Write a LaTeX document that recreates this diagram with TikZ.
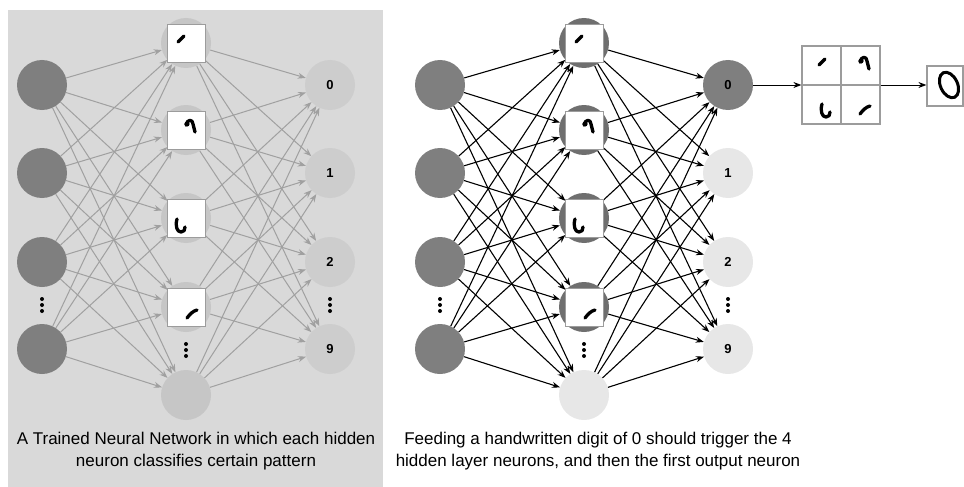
\documentclass[tikz,border=0pt]{standalone}
\usepackage{fontspec}
\setmainfont{Liberation Sans}
\usetikzlibrary{arrows.meta}

\definecolor{panelbg}{HTML}{D9D9D9}
\definecolor{inputgray}{HTML}{7F7F7F}
\definecolor{hiddenpale}{HTML}{C6C6C6}
\definecolor{outpale}{HTML}{CDCDCD}
\definecolor{hiddendark}{HTML}{6F6F6F}
\definecolor{outlight}{HTML}{E7E7E7}
\definecolor{edgegray}{HTML}{A0A0A0}
\definecolor{framegray}{HTML}{9C9C9C}

\tikzset{
  neuron/.style={circle, minimum size=50pt, inner sep=0pt, draw=none},
  patch/.style={rectangle, minimum size=38pt, inner sep=0pt, fill=white, draw=framegray, line width=0.7pt},
  label/.style={font=\bfseries\fontsize{13}{13}\selectfont},
  paleedge/.style={draw=edgegray, line width=1pt, -{Stealth[length=8pt,width=6pt]}},
  darkedge/.style={draw=black, line width=1.1pt, -{Stealth[length=8pt,width=6pt]}},
  ink/.style={draw=black, line width=3.3pt, line cap=round, line join=round},
  caption/.style={align=center, font=\fontsize{17}{21.5}\selectfont},
  glyphone/.pic={\draw[ink] (-8,-1) -- (-2,-7);},
  glyphtwo/.pic={\draw[ink] (0,-5) .. controls (1,-11) and (7,-11) .. (7,-6) .. controls (8,-2) .. (9,2);
                 \fill (1,-6) circle (2.6);},
  glyphthree/.pic={\draw[ink] (-9,1) .. controls (-11,8) and (-9,14) .. (-5,14) .. controls (-2,14) and (-1,12) .. (-1,9);},
  glyphfour/.pic={\draw[ink] (1,11) .. controls (4,7) and (7,4) .. (11,3);},
  vdots/.pic={\fill (0,-6) circle (2) (0,0) circle (2) (0,6) circle (2);}
}

\begin{document}
\begin{tikzpicture}[x=1pt, y=-1pt]
\useasboundingbox (0,0) rectangle (964,487);

% ---------- left panel: trained network ----------
\fill[panelbg] (8,10) rectangle (383,487);

\foreach \i/\y in {1/85,2/173,3/262,4/349}
  \node[neuron, fill=inputgray] (Li\i) at (42,\y) {};
\foreach \i/\y in {1/43,2/130,3/218,4/307,5/395}
  \node[neuron, fill=hiddenpale] (Lh\i) at (186,\y) {};
\foreach \i/\y/\t in {1/85/0,2/173/1,3/262/2,4/349/9}
  \node[neuron, fill=outpale, label] (Lo\i) at (330,\y) {\t};

\foreach \i in {1,...,4}
  \foreach \j in {1,...,5}
    \draw[paleedge] (Li\i) -- (Lh\j);
\foreach \j in {1,...,5}
  \foreach \k in {1,...,4}
    \draw[paleedge] (Lh\j) -- (Lo\k);

\node[patch] (Lp1) at (186,43) {};
\node[patch] (Lp2) at (186,130) {};
\node[patch] (Lp3) at (186,218) {};
\node[patch] (Lp4) at (186,307) {};
\pic at (186,43) {glyphone};
\pic at (186,130) {glyphtwo};
\pic at (186,218) {glyphthree};
\pic at (186,307) {glyphfour};

\pic at (42,305) {vdots};
\pic at (186,350) {vdots};
\pic at (330,305) {vdots};

\node[caption] (Lcap) at (196,451)
  {A Trained Neural Network in which each hidden\\neuron classifies certain pattern};

% ---------- right panel: feeding a zero ----------
\foreach \i/\y in {1/85,2/173,3/262,4/349}
  \node[neuron, fill=inputgray] (Ri\i) at (440,\y) {};
\foreach \i/\y in {1/43,2/130,3/218,4/307}
  \node[neuron, fill=hiddendark] (Rh\i) at (584,\y) {};
\node[neuron, fill=outlight] (Rh5) at (584,395) {};
\node[neuron, fill=inputgray, label] (Ro1) at (728,85) {0};
\foreach \i/\y/\t in {2/173/1,3/262/2,4/349/9}
  \node[neuron, fill=outlight, label] (Ro\i) at (728,\y) {\t};

\foreach \i in {1,...,4}
  \foreach \j in {1,...,5}
    \draw[darkedge] (Ri\i) -- (Rh\j);
\foreach \j in {1,...,5}
  \foreach \k in {1,...,4}
    \draw[darkedge] (Rh\j) -- (Ro\k);

\node[patch] (Rp1) at (584,43) {};
\node[patch] (Rp2) at (584,130) {};
\node[patch] (Rp3) at (584,218) {};
\node[patch] (Rp4) at (584,307) {};
\pic at (584,43) {glyphone};
\pic at (584,130) {glyphtwo};
\pic at (584,218) {glyphthree};
\pic at (584,307) {glyphfour};

\pic at (440,305) {vdots};
\pic at (584,350) {vdots};
\pic at (728,305) {vdots};

% combined pattern grid and the recognised digit
\node[rectangle, minimum size=78pt, inner sep=0pt, fill=white, draw=framegray, line width=1.2pt] (grid) at (841,85) {};
\draw[framegray, line width=1.2pt] (grid.north) -- (grid.south) (grid.west) -- (grid.east);
\pic at (827,66) {glyphone};
\pic at (860,67) {glyphtwo};
\pic at (831,103) {glyphthree};
\pic at (859,103) {glyphfour};

\node[rectangle, minimum width=36pt, minimum height=40pt, inner sep=0pt, fill=white, draw=framegray, line width=1.2pt] (digit) at (945,86) {};
\draw[line width=3pt, rotate around={25:(949,85)}] (949,85) ellipse [x radius=8.5, y radius=13.5];

\draw[darkedge, line width=0.9pt] (Ro1) -- (grid.west |- Ro1);
\draw[darkedge, line width=0.9pt] (grid.east |- Ro1) -- (digit.west |- Ro1);

\node[caption] (Rcap) at (598,451)
  {Feeding a handwritten digit of 0 should trigger the 4\\hidden layer neurons, and then the first output neuron};
\end{tikzpicture}
\end{document}
